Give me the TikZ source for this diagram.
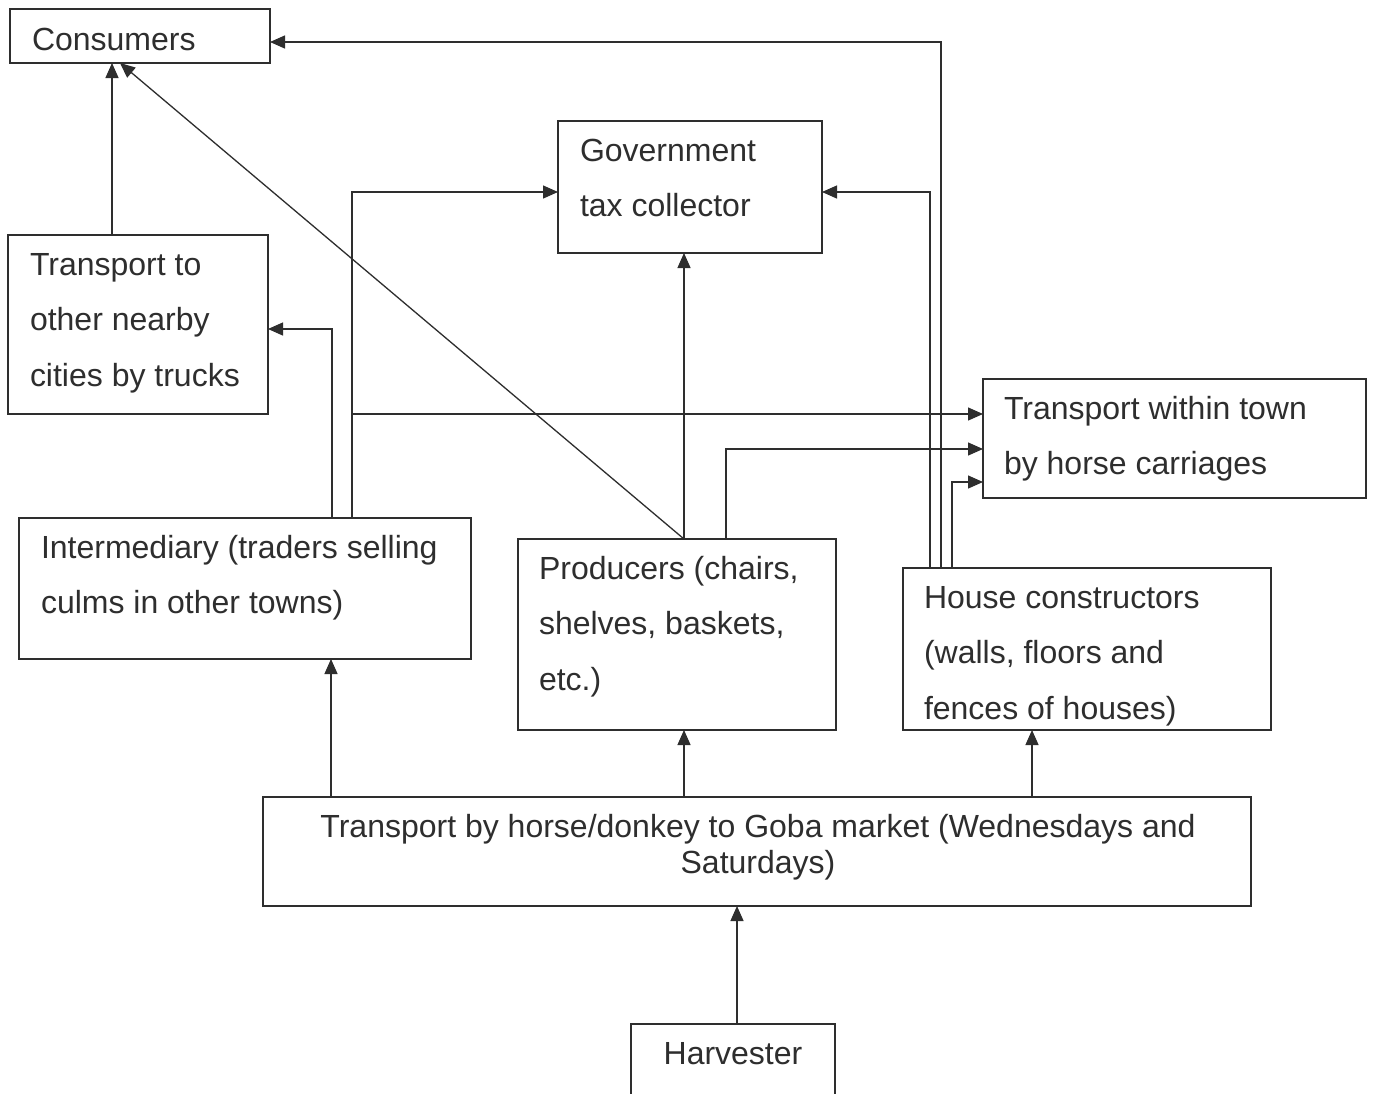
\documentclass[tikz,border=0pt]{standalone}
\usepackage{fontspec}
\setmainfont{Liberation Sans}
\usetikzlibrary{arrows.meta}
\definecolor{ink}{HTML}{2E2E2E}
\newcommand\firstline{\rule{0pt}{26pt}}
\begin{document}
\begin{tikzpicture}[x=1pt,y=-1pt,
  box/.style={draw=ink, line width=1.4pt, inner sep=0pt, outer sep=0pt},
  txt/.style={inner sep=0pt, outer sep=0pt, anchor=north west, align=left, text=ink,
    font=\fontsize{32}{55.5}\selectfont},
  ctxt/.style={inner sep=0pt, outer sep=0pt, anchor=north, align=center, text=ink,
    font=\fontsize{32}{36}\selectfont},
  conn/.style={draw=ink, line width=1.3pt, -{Triangle[length=15pt,width=13pt]}}]
\clip (0,0) rectangle (1374,1093);
\fill[white] (0,0) rectangle (1374,1093);
% boxes
\node[box, minimum width=260pt, minimum height=54pt] (cons) at (140,36) {};
\node[box, minimum width=264pt, minimum height=132pt] (gov) at (690,187) {};
\node[box, minimum width=260pt, minimum height=179pt] (tc) at (138,324.5) {};
\node[box, minimum width=383pt, minimum height=119pt] (twt) at (1174.5,438.5) {};
\node[box, minimum width=452pt, minimum height=141pt] (inter) at (245,588.5) {};
\node[box, minimum width=318pt, minimum height=191pt] (prod) at (677,634.5) {};
\node[box, minimum width=368pt, minimum height=162pt] (hc) at (1087,649) {};
\node[box, minimum width=988pt, minimum height=109pt] (tr) at (757,851.5) {};
\node[box, minimum width=204pt, minimum height=96pt] (harv) at (733,1072) {};
% texts
\node[txt] (cons-t) at (32,24) {\firstline Consumers};
\node[txt] (gov-t) at (580,135) {\firstline Government\\tax collector};
\node[txt] (tc-t) at (30,249) {\firstline Transport to\\other nearby\\cities by trucks};
\node[txt] (twt-t) at (1004,393) {\firstline Transport within town\\by horse carriages};
\node[txt] (inter-t) at (41,532) {\firstline Intermediary (traders selling\\culms in other towns)};
\node[txt] (prod-t) at (539,553) {\firstline Producers (chairs,\\shelves, baskets,\\etc.)};
\node[txt] (hc-t) at (924,582) {\firstline House constructors\\(walls, floors and\\fences of houses)};
\node[ctxt] (tr-t) at (758,811) {\firstline Transport by horse/donkey to Goba market (Wednesdays and\\Saturdays)};
\node[ctxt] (harv-t) at (733,1038) {\firstline Harvester};
% connector points
\coordinate (tcA) at ([xshift=-26pt]tc.north);
\coordinate (prA) at ([xshift=7pt]prod.north);
\coordinate (prB) at ([xshift=49pt]prod.north);
\coordinate (consD) at ([xshift=-20pt]cons.south);
\coordinate (hcA) at ([xshift=-146pt]hc.north);
\coordinate (hcB) at ([xshift=-157pt]hc.north);
\coordinate (hcC) at ([xshift=-135pt]hc.north);
\coordinate (consE) at ([yshift=-6pt]cons.east);
\coordinate (govE) at ([yshift=-5pt]gov.east);
\coordinate (govW) at ([yshift=-5pt]gov.west);
\coordinate (twtA) at ([yshift=24.5pt]twt.west);
\coordinate (twtB) at ([yshift=-10.5pt]twt.west);
\coordinate (twtC) at ([yshift=-43.5pt]twt.west);
\coordinate (inA) at ([xshift=107pt]inter.north);
\coordinate (inB) at ([xshift=87pt]inter.north);
\coordinate (tcE) at ([yshift=-4.5pt]tc.east);
\coordinate (trA) at ([xshift=-426pt]tr.north);
\coordinate (trB) at ([xshift=-73pt]tr.north);
\coordinate (trC) at ([xshift=275pt]tr.north);
\coordinate (hvA) at ([xshift=4pt]harv.north);
% connectors
\draw[conn] (tcA) -- (tcA |- cons.south);
\draw[conn] (prA) -- (consD);
\draw[conn] (hcA) |- (consE);
\draw[conn] (hcB) |- (govE);
\draw[conn] (hcC) |- (twtC);
\draw[conn] (prA) -- (prA |- gov.south);
\draw[conn] (prB) |- (twtB);
\draw[conn] (inA) |- (govW);
\draw[conn] (inA |- twtA) -- (twtA);
\draw[conn] (inB) |- (tcE);
\draw[conn] (trA) -- (trA |- inter.south);
\draw[conn] (trB) -- (trB |- prod.south);
\draw[conn] (trC) -- (trC |- hc.south);
\draw[conn] (hvA) -- (hvA |- tr.south);
\end{tikzpicture}
\end{document}
